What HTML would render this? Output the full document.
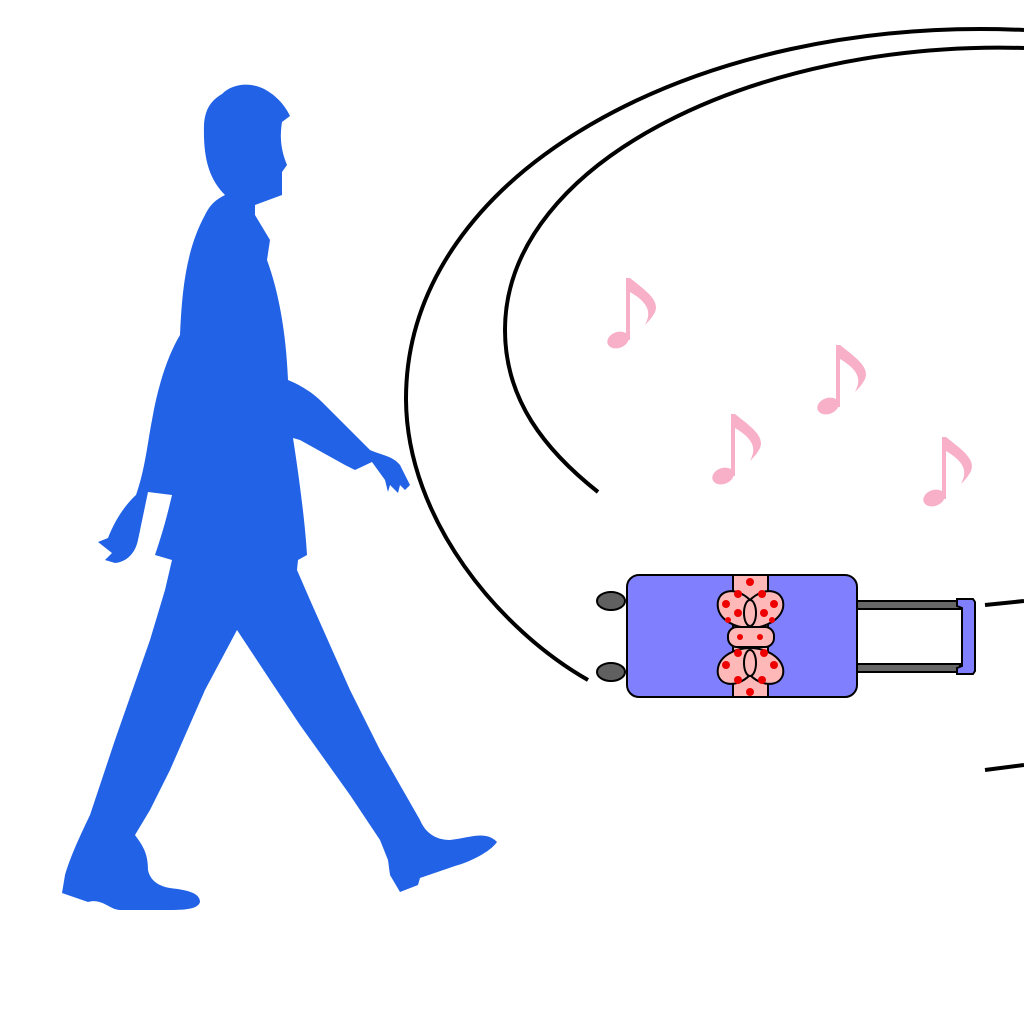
<!DOCTYPE html>
<html><head><meta charset="utf-8"><title>Walking with suitcase</title>
<style>html,body{margin:0;padding:0;background:#fff;width:1024px;height:1024px;overflow:hidden}</style>
</head><body>
<svg width="1024" height="1024" viewBox="0 0 1024 1024" xmlns="http://www.w3.org/2000/svg">
<rect width="1024" height="1024" fill="#fff"/>
<g fill="none" stroke="#000" stroke-width="4">
<path d="M1024,30 C700,15 405,170 406,400 C407,520 500,630 588,680"/>
<path d="M1024,48 C760,40 505,160 505,330 C505,400 545,450 598,492"/>
<path d="M985,605 L1024,601"/>
<path d="M985,770 L1024,765"/>
</g>
<path fill="#2262e6" d="M225,195 C210,180 203,160 204,125 C205,108 212,100 222,94 C232,84 248,82 262,88 C275,94 285,105 290,116 L282,122 C280,135 280,148 287,165 L282,172 L282,195 L255,205 L255,215 L270,240 L267,260 C278,290 286,330 288,380 C300,385 312,392 322,402 L345,425 L370,450 C380,455 392,455 400,465 L410,485 L405,490 L400,485 L398,493 L390,485 L388,492 L385,480 L372,462 L355,470 L345,465 L300,440 L293,438 C298,470 305,520 307,555 L298,560 L297,570 L310,600 L350,690 L380,750 L420,820 C425,832 435,840 450,840 C470,838 485,830 497,842 C490,852 470,862 455,866 L420,878 L418,885 L400,892 L390,875 L388,860 L380,840 L350,795 L300,725 L270,680 L237,630 L205,690 L170,770 L150,810 L135,835 C142,845 148,852 148,870 C150,880 158,886 170,888 C185,890 200,892 200,902 C198,908 190,910 170,910 L120,910 C110,910 102,898 88,902 L62,893 L65,875 C70,858 78,840 90,815 L115,740 L150,640 L165,590 L172,560 L155,555 C160,540 165,525 172,495 L148,492 L138,540 C135,555 125,562 115,563 L105,560 L112,553 L98,542 L108,538 C115,520 125,505 136,495 C145,470 148,440 152,420 C158,385 168,355 180,335 C182,290 186,250 205,215 C210,205 215,200 225,195 Z"/>
<g fill="#f8b0c8">
<g><ellipse cx="618" cy="340" rx="11" ry="8" transform="rotate(-20 618 340)"/><rect x="626" y="278" width="4" height="62"/><path d="M630,278 C645,290 660,300 655,312 C652,318 648,322 645,325 C650,315 652,305 630,292Z"/></g>
<g><ellipse cx="828" cy="406" rx="11" ry="8" transform="rotate(-20 828 406)"/><rect x="836" y="345" width="4" height="62"/><path d="M840,345 C855,357 870,367 865,379 C862,385 858,389 855,392 C860,382 862,372 840,359Z"/></g>
<g><ellipse cx="723" cy="476" rx="11" ry="8" transform="rotate(-20 723 476)"/><rect x="731" y="414" width="4" height="62"/><path d="M735,414 C750,426 765,436 760,448 C757,454 753,458 750,461 C755,451 757,441 735,428Z"/></g>
<g><ellipse cx="934" cy="498" rx="11" ry="8" transform="rotate(-20 934 498)"/><rect x="942" y="437" width="4" height="62"/><path d="M946,437 C961,449 976,459 971,471 C968,477 964,481 961,484 C966,474 968,464 946,451Z"/></g>
</g>
<g stroke="#000" stroke-width="2">
<rect x="857" y="601" width="103" height="8" fill="#666"/>
<rect x="857" y="664" width="103" height="8" fill="#666"/>
<path d="M957,599 L973,599 L975,602 L975,671 L973,674 L957,674 L957,668 L962,666 L962,608 L957,606Z" fill="#8080ff"/>
<ellipse cx="611" cy="601" rx="14" ry="9" fill="#606060"/>
<ellipse cx="611" cy="672" rx="14" ry="9" fill="#606060"/>
<rect x="627" y="575" width="230" height="122" rx="12" fill="#8080ff"/>
<rect x="733" y="576" width="35" height="120" fill="#ffb8b8" stroke="none"/>
<line x1="733" y1="576" x2="733" y2="696"/><line x1="768" y1="576" x2="768" y2="696"/>
<path d="M750,600 C735,585 715,590 718,608 C720,620 735,628 750,628 C765,628 780,620 783,608 C786,590 765,585 750,600Z" fill="#ffb8b8"/>
<path d="M750,675 C735,690 715,685 718,668 C720,656 735,648 750,648 C765,648 780,656 783,668 C786,685 765,690 750,675Z" fill="#ffb8b8"/>
<rect x="728" y="627" width="46" height="20" rx="9" fill="#ffb8b8"/>
<ellipse cx="750" cy="613" rx="6" ry="13" fill="#ffb8b8"/>
<ellipse cx="750" cy="663" rx="6" ry="13" fill="#ffb8b8"/>
</g>
<g fill="#ee0000">
<circle cx="738" cy="594" r="4"/><circle cx="762" cy="594" r="4"/><circle cx="750" cy="582" r="4"/><circle cx="726" cy="604" r="4"/><circle cx="774" cy="604" r="4"/><circle cx="738" cy="613" r="4"/><circle cx="764" cy="613" r="4"/><circle cx="728" cy="620" r="3"/><circle cx="772" cy="620" r="3"/>
<circle cx="740" cy="637" r="3"/><circle cx="760" cy="637" r="3"/>
<circle cx="738" cy="653" r="4"/><circle cx="764" cy="653" r="4"/><circle cx="726" cy="665" r="4"/><circle cx="774" cy="665" r="4"/><circle cx="738" cy="680" r="4"/><circle cx="762" cy="680" r="4"/><circle cx="750" cy="692" r="4"/>
</g>
</svg>
</body></html>
